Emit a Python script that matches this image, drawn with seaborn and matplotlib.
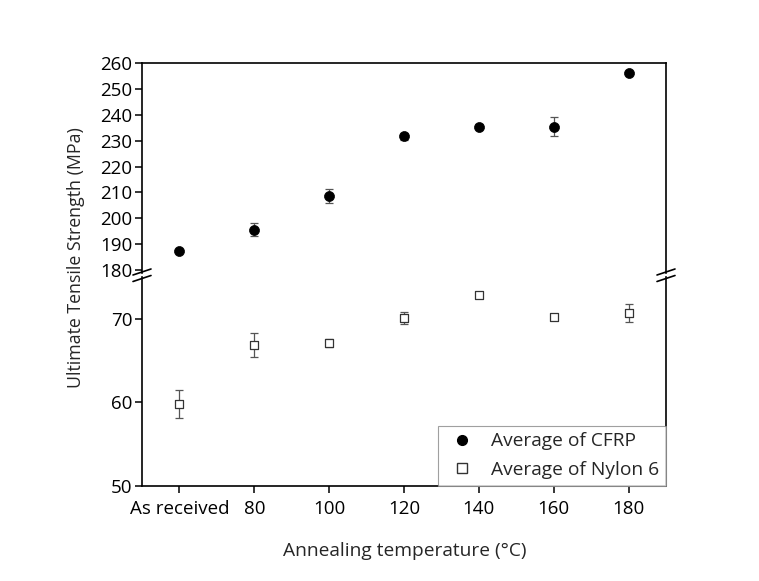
import numpy as np
import pandas as pd
import matplotlib
matplotlib.use("Agg")
import matplotlib.pyplot as plt
from matplotlib.lines import Line2D
import seaborn as sns

categories = ["As received", "80", "100", "120", "140", "160", "180"]
cfrp_mean = [187.5, 195.6, 208.5, 231.7, 235.5, 235.5, 256.4]
cfrp_err = [0.6, 2.6, 2.7, 1.2, 1.0, 3.7, 0.8]
nylon_mean = [59.8, 66.9, 67.1, 70.1, 72.9, 70.2, 70.7]
nylon_err = [1.7, 1.4, 0.5, 0.7, 0.3, 0.1, 1.1]
top_ticks = [180, 190, 200, 210, 220, 230, 240, 250, 260]
bottom_ticks = [50, 60, 70]

sns.set_theme(style="ticks")
plt.rcParams['font.family'] = ['Open Sans', 'DejaVu Sans']

df = pd.DataFrame({
    "pos": np.arange(len(categories)),
    "cat": categories,
    "cfrp": cfrp_mean, "cfrp_err": cfrp_err,
    "nylon": nylon_mean, "nylon_err": nylon_err,
})

W, H = 759, 581
fig = plt.figure(figsize=(W / 100, H / 100), dpi=100)
L, R = 142 / W, 666 / W
ax_top = fig.add_axes([L, 1 - 272.6 / H, R - L, (272.6 - 63.3) / H])
ax_bot = fig.add_axes([L, 1 - 485.7 / H, R - L, (485.7 - 277.4) / H])

ecol = "#555555"
ax_top.errorbar(df["pos"], df["cfrp"], yerr=df["cfrp_err"], fmt="none",
                ecolor=ecol, elinewidth=0.9, capsize=3.2, capthick=0.9, zorder=2)
sns.scatterplot(data=df, x="pos", y="cfrp", ax=ax_top, marker="o", s=52,
                color="black", edgecolor="black", linewidth=0.5, zorder=3, legend=False)
ax_bot.errorbar(df["pos"], df["nylon"], yerr=df["nylon_err"], fmt="none",
                ecolor=ecol, elinewidth=0.9, capsize=3.2, capthick=0.9, zorder=2)
sns.scatterplot(data=df, x="pos", y="nylon", ax=ax_bot, marker="s", s=38,
                facecolor="white", edgecolor="#333333", linewidth=0.9, zorder=3, legend=False)

for ax in (ax_top, ax_bot):
    ax.set_xlim(-0.5, len(categories) - 0.5)
    ax.set_xlabel("")
    ax.set_ylabel("")
    for s in ax.spines.values():
        s.set_color("black")
        s.set_linewidth(1.2)
    ax.tick_params(axis="both", direction="out", length=5, width=1.1,
                   colors="black", labelsize=13.5, pad=2)

ax_top.set_ylim(179, 260)
ax_top.set_yticks(top_ticks)
ax_top.set_xticks([])
ax_top.spines["bottom"].set_visible(False)

ax_bot.set_ylim(50, 75)
ax_bot.set_yticks(bottom_ticks)
ax_bot.set_xticks(df["pos"])
ax_bot.set_xticklabels(categories)
ax_bot.tick_params(axis="x", pad=5)
ax_bot.spines["top"].set_visible(False)

# break marks
for xs in (142, 666):
    for yc in (272.0, 278.5):
        x0, x1 = (xs - 9) / W, (xs + 9) / W
        y0, y1 = 1 - (yc + 3) / H, 1 - (yc - 3) / H
        fig.add_artist(Line2D([x0, x1], [y0, y1], color="black", lw=1.2))

fig.text(76 / W, 1 - 258 / H, "Ultimate Tensile Strength (MPa)", rotation=90,
         ha="center", va="center", fontsize=12.8)
fig.text(405 / W, 1 - 551 / H, "Annealing temperature (\u00b0C)",
         ha="center", va="center", fontsize=13.8)

handles = [
    Line2D([], [], marker="o", color="black", linestyle="none", markersize=7),
    Line2D([], [], marker="s", markerfacecolor="white", markeredgecolor="#333333",
           linestyle="none", markersize=6.5),
]
leg = ax_bot.legend(handles, ["Average of CFRP", "Average of Nylon 6"],
                    loc="lower right", fontsize=13.8, frameon=True, fancybox=False,
                    borderaxespad=0, handletextpad=0.6, borderpad=0.35,
                    labelspacing=0.55, handlelength=1.8)
leg.get_frame().set_edgecolor("#888888")
leg.get_frame().set_linewidth(0.8)

fig.savefig("out.png", dpi=100, facecolor="white")
